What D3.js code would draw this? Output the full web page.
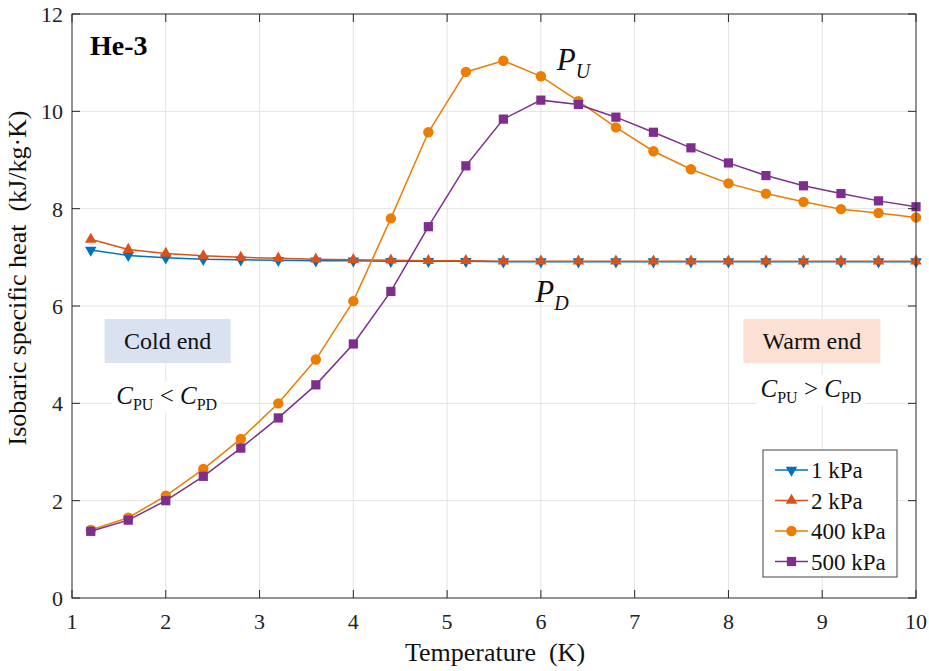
<!DOCTYPE html>
<html>
<head>
<meta charset="utf-8">
<script src="https://cdn.jsdelivr.net/npm/d3@7"></script>
<style>
  body { margin: 0; background: #fff; }
</style>
</head>
<body>
<svg id="chart" width="929" height="671" font-family="'Liberation Serif', 'Times New Roman', 'DejaVu Serif', serif"></svg>
<script>
// temperatures (K)
var temps = [1.2, 1.6, 2.0, 2.4, 2.8, 3.2, 3.6, 4.0, 4.4, 4.8, 5.2, 5.6, 6.0, 6.4, 6.8, 7.2, 7.6, 8.0, 8.4, 8.8, 9.2, 9.6, 10.0];
// isobaric specific heat (kJ/kg·K)
var cp1kPa   = [7.15, 7.04, 6.99, 6.96, 6.95, 6.94, 6.93, 6.93, 6.92, 6.92, 6.92, 6.91, 6.91, 6.91, 6.91, 6.91, 6.91, 6.91, 6.91, 6.91, 6.91, 6.91, 6.91];
var cp2kPa   = [7.37, 7.16, 7.08, 7.03, 7.00, 6.98, 6.96, 6.95, 6.94, 6.93, 6.93, 6.92, 6.92, 6.92, 6.92, 6.92, 6.92, 6.92, 6.92, 6.92, 6.92, 6.92, 6.92];
var cp400kPa = [1.40, 1.65, 2.10, 2.65, 3.27, 4.00, 4.90, 6.10, 7.80, 9.57, 10.81, 11.04, 10.72, 10.21, 9.67, 9.18, 8.81, 8.52, 8.31, 8.14, 7.99, 7.91, 7.82];
var cp500kPa = [1.37, 1.60, 2.00, 2.50, 3.08, 3.70, 4.38, 5.22, 6.30, 7.63, 8.88, 9.84, 10.23, 10.14, 9.88, 9.57, 9.25, 8.94, 8.68, 8.47, 8.31, 8.16, 8.04];
var seriesNames = ["1 kPa", "2 kPa", "400 kPa", "500 kPa"];
var xTicks = [1, 2, 3, 4, 5, 6, 7, 8, 9, 10];
var yTicks = [0, 2, 4, 6, 8, 10, 12];

var colors = ["#0072BD", "#D95319", "#EC7D00", "#7E2F8E"];
var symbols = ["tridown", "triup", "circle", "square"];
var allSeries = [cp1kPa, cp2kPa, cp400kPa, cp500kPa];

var margin = {top: 14, right: 13, bottom: 73, left: 72};
var W = 929, H = 671;
var w = W - margin.left - margin.right, h = H - margin.top - margin.bottom;

var svg = d3.select("#chart");
var g = svg.append("g").attr("transform", "translate(" + margin.left + "," + margin.top + ")");

var x = d3.scaleLinear().domain([1, 10]).range([0, w]);
var y = d3.scaleLinear().domain([0, 12]).range([h, 0]);

// grid
g.append("g").selectAll("line").data(xTicks.slice(1, -1)).enter().append("line")
  .attr("x1", d => x(d)).attr("x2", d => x(d)).attr("y1", 0).attr("y2", h)
  .attr("stroke", "#e3e3e3").attr("stroke-width", 1);
g.append("g").selectAll("line").data(yTicks.slice(1, -1)).enter().append("line")
  .attr("y1", d => y(d)).attr("y2", d => y(d)).attr("x1", 0).attr("x2", w)
  .attr("stroke", "#e3e3e3").attr("stroke-width", 1);

// annotation boxes
function note(cx, cy, bw, bh, fill, label) {
  g.append("rect").attr("x", cx - bw / 2).attr("y", cy - bh / 2)
    .attr("width", bw).attr("height", bh).attr("fill", fill);
  g.append("text").attr("x", cx).attr("y", cy + 8).attr("text-anchor", "middle")
    .attr("font-size", 24).attr("fill", "#111").text(label);
}
note(x(2.02), y(5.28), 126, 44, "#DAE1F1", "Cold end");
note(x(8.89), y(5.28), 137, 44, "#FCE0D3", "Warm end");

function cpLabel(cx, cy, op) {
  var t = g.append("text").attr("x", cx).attr("y", cy).attr("text-anchor", "middle")
    .attr("font-size", 25).attr("fill", "#111");
  t.append("tspan").attr("font-style", "italic").text("C");
  t.append("tspan").attr("font-size", 16).attr("dy", 6).text("PU");
  t.append("tspan").attr("dy", -6).text(" " + op + " ");
  t.append("tspan").attr("font-style", "italic").text("C");
  t.append("tspan").attr("font-size", 16).attr("dy", 6).text("PD");
  var bb = t.node().getBBox();
  g.insert("rect", "text").attr("x", bb.x - 4).attr("y", bb.y).attr("width", bb.width + 8)
    .attr("height", bb.height).attr("fill", "#fff");
}
cpLabel(x(2.01), y(3.99), "<");
cpLabel(x(8.88), y(4.13), ">");

// P_U / P_D
function pLabel(px, py, sub) {
  var t = g.append("text").attr("x", px).attr("y", py).attr("font-size", 31)
    .attr("font-style", "italic").attr("fill", "#111");
  t.append("tspan").text("P");
  t.append("tspan").attr("font-size", 20).attr("dy", 8).text(sub);
}
pLabel(x(6.17), y(10.85), "U");
pLabel(x(5.94), y(6.08), "D");

// series
var line = d3.line().x((d, i) => x(temps[i])).y(d => y(d));
var symType = {
  circle: d3.symbolCircle, square: d3.symbolSquare,
  triup: d3.symbolTriangle, tridown: d3.symbolTriangle
};
var symSize = {circle: 85, square: 85, triup: 58, tridown: 58};

function drawMarker(sel, k, cx, cy) {
  sel.append("path")
    .attr("d", d3.symbol().type(symType[symbols[k]]).size(symSize[symbols[k]])())
    .attr("transform", "translate(" + cx + "," + cy + ")" + (symbols[k] == "tridown" ? " rotate(180)" : ""))
    .attr("fill", colors[k]);
}

allSeries.forEach(function(vals, k) {
  g.append("path").datum(vals).attr("d", line)
    .attr("fill", "none").attr("stroke", colors[k]).attr("stroke-width", 1.5);
  var mg = g.append("g");
  vals.forEach(function(v, i) { drawMarker(mg, k, x(temps[i]), y(v)); });
});

// axes box with inward ticks
var axisColor = "#262626";
g.append("rect").attr("width", w).attr("height", h).attr("fill", "none")
  .attr("stroke", axisColor).attr("stroke-width", 1);
var tl = 8;
xTicks.forEach(function(t) {
  g.append("line").attr("x1", x(t)).attr("x2", x(t)).attr("y1", h).attr("y2", h - tl).attr("stroke", axisColor);
  g.append("line").attr("x1", x(t)).attr("x2", x(t)).attr("y1", 0).attr("y2", tl).attr("stroke", axisColor);
  g.append("text").attr("x", x(t)).attr("y", h + 31).attr("text-anchor", "middle")
    .attr("font-size", 22).attr("fill", "#222").text(t);
});
yTicks.forEach(function(t) {
  g.append("line").attr("y1", y(t)).attr("y2", y(t)).attr("x1", 0).attr("x2", tl).attr("stroke", axisColor);
  g.append("line").attr("y1", y(t)).attr("y2", y(t)).attr("x1", w).attr("x2", w - tl).attr("stroke", axisColor);
  g.append("text").attr("x", -9).attr("y", y(t) + 8).attr("text-anchor", "end")
    .attr("font-size", 22).attr("fill", "#222").text(t);
});

// titles
g.append("text").attr("x", w / 2 + 1).attr("y", h + 63).attr("text-anchor", "middle")
  .attr("font-size", 26).attr("fill", "#111").attr("xml:space", "preserve").text("Temperature  (K)");
g.append("text").attr("transform", "translate(-46," + (278 - margin.top) + ") rotate(-90)")
  .attr("text-anchor", "middle").attr("font-size", 26).attr("fill", "#111")
  .attr("xml:space", "preserve").text("Isobaric specific heat  (kJ/kg\u00b7K)");
g.append("text").attr("x", 18).attr("y", 41).attr("font-size", 28).attr("font-weight", "bold")
  .attr("fill", "#000").text("He-3");

// legend
var lg = g.append("g").attr("transform", "translate(" + (763 - margin.left) + "," + (450 - margin.top) + ")");
lg.append("rect").attr("width", 134).attr("height", 127).attr("fill", "#fff")
  .attr("stroke", "#444").attr("stroke-width", 1);
seriesNames.forEach(function(name, k) {
  var ly = 20 + k * 30.5;
  lg.append("line").attr("x1", 12).attr("x2", 45).attr("y1", ly).attr("y2", ly)
    .attr("stroke", colors[k]).attr("stroke-width", 1.5);
  drawMarker(lg, k, 28.5, ly);
  lg.append("text").attr("x", 48).attr("y", ly + 8).attr("font-size", 23).attr("fill", "#111").text(name);
});
</script>
</body>
</html>
